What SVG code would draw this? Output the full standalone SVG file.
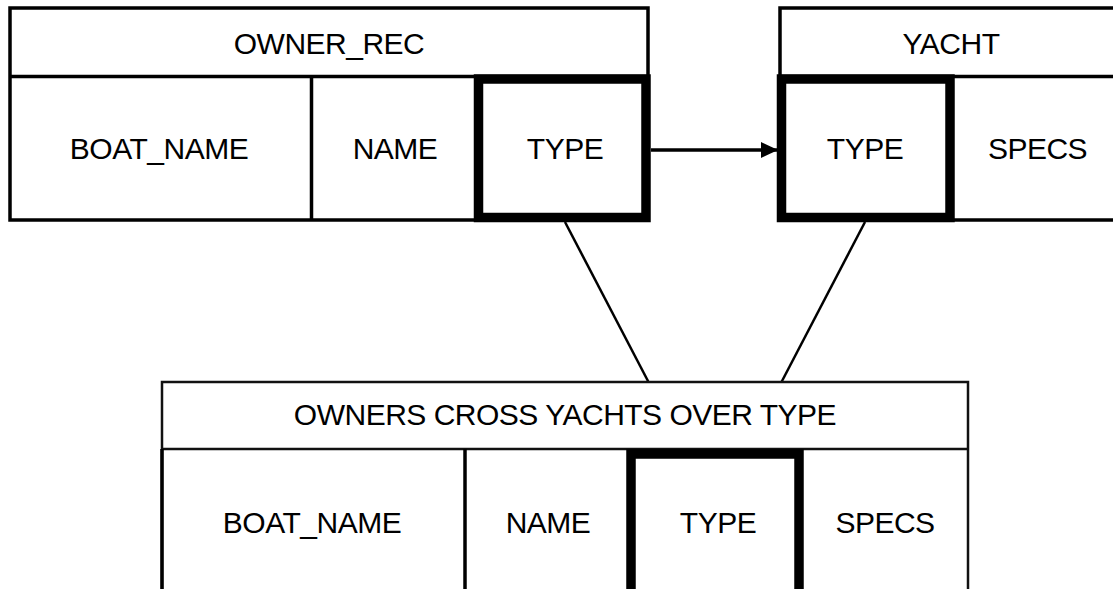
<svg xmlns="http://www.w3.org/2000/svg" width="1113" height="589" viewBox="0 0 1113 589">
  <style>
    .box { fill: #fff; stroke: #000; stroke-width: 3.5; }
    .thin { fill: none; stroke: #111; stroke-width: 2.5; }
    .key { fill: none; stroke: #000; stroke-width: 9.5; }
    .div { stroke: #000; stroke-width: 3.5; }
    .lbl { font-family: "Liberation Sans", Arial, Helvetica, sans-serif; font-size: 30px; letter-spacing: -0.5px; fill: #000; text-anchor: middle; }
    .conn { stroke: #000; stroke-width: 2.5; fill: none; }
    .ref { stroke: #000; stroke-width: 3.5; fill: none; }
  </style>
  <defs>
    <marker id="arrow" markerWidth="18" markerHeight="18" refX="17" refY="8" orient="auto" markerUnits="userSpaceOnUse">
      <path d="M0,0 L17,8 L0,16 Z" fill="#000"/>
    </marker>
  </defs>
  <rect width="1113" height="589" fill="#fff"/>

  <!-- connectors -->
  <g id="connectors">
    <line class="ref" x1="651" y1="150" x2="778" y2="150" marker-end="url(#arrow)"/>
    <line class="conn" x1="565" y1="222" x2="648.5" y2="382"/>
    <line class="conn" x1="865" y1="222" x2="781.5" y2="382"/>
  </g>

  <!-- OWNER_REC relation -->
  <g id="owner_rec">
    <rect class="box" x="10" y="8" width="638" height="212"/>
    <line class="div" x1="10" y1="76.5" x2="648" y2="76.5"/>
    <line class="div" x1="311.5" y1="76.5" x2="311.5" y2="220"/>
    <rect class="key" x="478.5" y="79" width="167.5" height="138.5"/>
    <text class="lbl" x="329" y="54">OWNER_REC</text>
    <text class="lbl" x="159" y="159">BOAT_NAME</text>
    <text class="lbl" x="395" y="159">NAME</text>
    <text class="lbl" x="565" y="159">TYPE</text>
  </g>

  <!-- YACHT relation -->
  <g id="yacht">
    <rect class="box" x="780" y="8" width="342" height="212"/>
    <line class="div" x1="780" y1="76.5" x2="1122" y2="76.5"/>
    <rect class="key" x="781.5" y="79" width="168.5" height="138.5"/>
    <text class="lbl" x="951" y="54">YACHT</text>
    <text class="lbl" x="865" y="159">TYPE</text>
    <text class="lbl" x="1037.5" y="159">SPECS</text>
  </g>

  <!-- join result -->
  <g id="owners_cross_yachts">
    <rect class="thin" x="162" y="382" width="806" height="230"/>
    <line class="thin" x1="162" y1="449" x2="968" y2="449"/>
    <line class="div" x1="162" y1="449" x2="162" y2="600"/>
    <line class="div" x1="465" y1="449" x2="465" y2="600"/>
    <rect class="key" x="631" y="454" width="168" height="160"/>
    <text class="lbl" x="565" y="425">OWNERS CROSS YACHTS OVER TYPE</text>
    <text class="lbl" x="312" y="533">BOAT_NAME</text>
    <text class="lbl" x="548" y="533">NAME</text>
    <text class="lbl" x="718" y="533">TYPE</text>
    <text class="lbl" x="885" y="533">SPECS</text>
  </g>
</svg>
